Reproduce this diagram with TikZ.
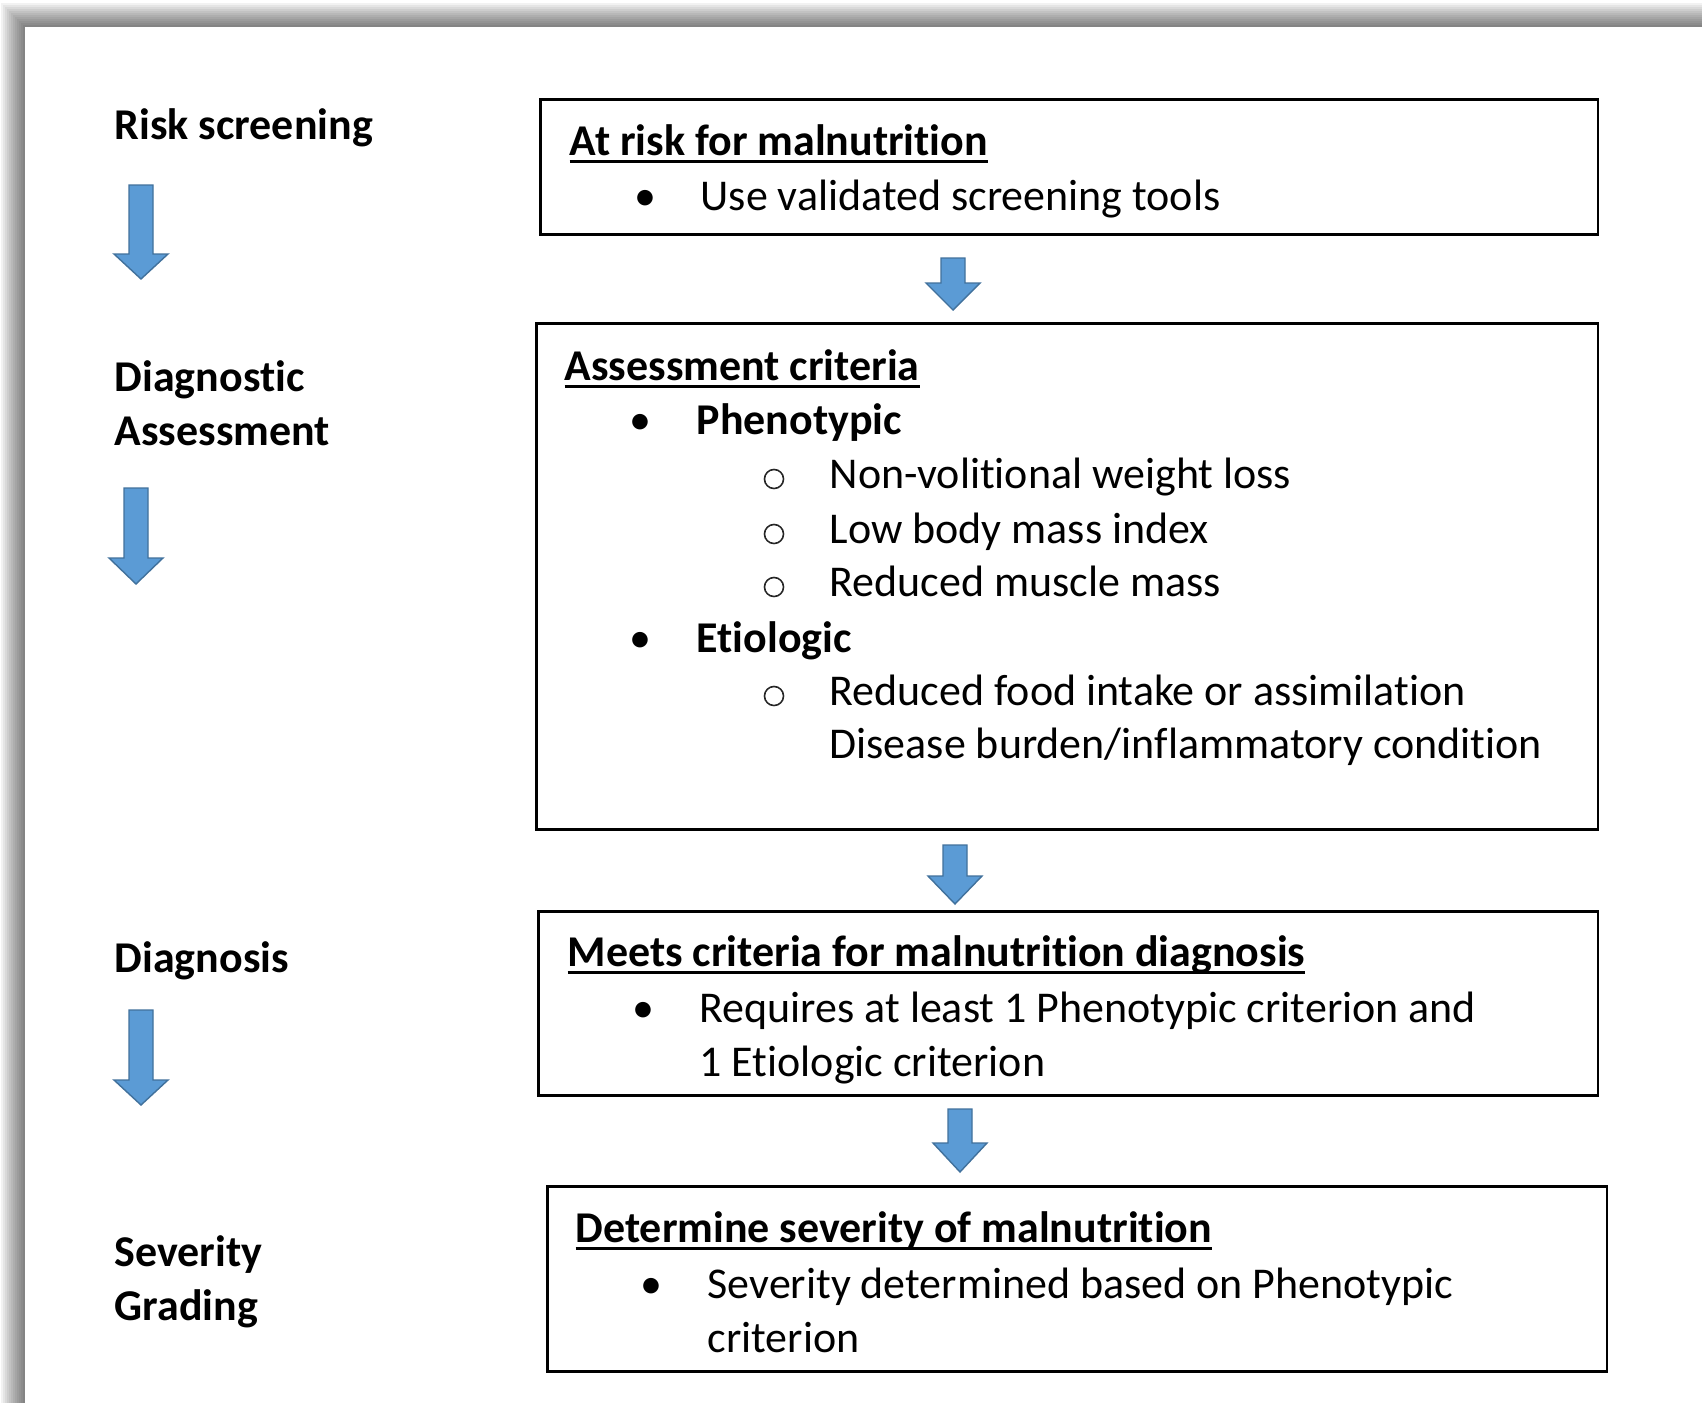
\documentclass[tikz,border=0pt]{standalone}
\usepackage{fontspec}
\setmainfont{Carlito}[Ligatures=NoCommon]

% Define colors
\definecolor{arrowblue}{HTML}{5B9BD5}
\definecolor{arrowedge}{HTML}{41719C}

% underlined heading: rule a little below the baseline
\newcommand\headline[1]{\setbox0\hbox{#1}\rlap{\rule[-2.2pt]{\wd0}{0.7pt}}\box0}

\begin{document}
\begin{tikzpicture}[x=0.01cm, y=-0.01cm,
    every node/.style={inner sep=0pt, font=\fontsize{12.5}{15}\selectfont},
    stagelabel/.style={anchor=base west, font=\fontsize{12.5}{15}\selectfont\bfseries},
    boxhead/.style={anchor=base west, font=\fontsize{12.5}{15}\selectfont\bfseries},
    itemtext/.style={anchor=base west},
    bulletdot/.style={anchor=base},
    subdot/.style={circle, draw=black!85, line width=0.45pt, minimum size=0.19cm},
    stagebox/.style={draw, line width=0.8pt, anchor=north west},
    blockarrow/.style={fill=arrowblue, draw=arrowedge, line width=0.4pt}]

    \useasboundingbox (0,0) rectangle (1702,1403);

    % Page with its shadow
    \fill[white] (0,0) rectangle (1702,1403);
    \foreach \s in {1,...,12}
      \fill[black, opacity=0.05] ({25-2*\s},{27-2*\s}) rectangle (1702,1403);
    \fill[white] (25,27) rectangle (1702,1403);

    % Define a macro to draw a block arrow pointing down
    \def\drawArrow#1#2#3#4{ % #1 = x, #2 = top, #3 = head top, #4 = tip
      \filldraw[blockarrow] ({#1-12},#2) -- ({#1+12},#2) -- ({#1+12},#3) -- ({#1+27},#3)
        -- (#1,#4) -- ({#1-27},#3) -- ({#1-12},#3) -- cycle;
    }

    % Stage labels on the left
    \node[stagelabel] (risk) at (114,139) {Risk screening};
    \node[stagelabel] (diagA) at (114,391) {Diagnostic};
    \node[stagelabel] (diagB) at (114,445) {Assessment};
    \node[stagelabel] (diagnosis) at (114,972) {Diagnosis};
    \node[stagelabel] (sevA) at (114,1266) {Severity};
    \node[stagelabel] (sevB) at (114,1320) {Grading};

    % Arrows on the left
    \drawArrow{141}{185}{254}{279}
    \drawArrow{136}{488}{558}{584}
    \drawArrow{141}{1010}{1080}{1105}

    % Box 1: at risk
    \node[stagebox, minimum width=10.57cm, minimum height=1.35cm] (riskbox) at (539,98) {};
    \node[boxhead] (riskhead) at (569,155) {\headline{At risk for malnutrition}};
    \node[bulletdot] (riskdot) at (645,210) {•};
    \node[itemtext] (riskitem) at (700,210) {Use validated screening tools};

    % Box 2: assessment criteria
    \node[stagebox, minimum width=10.61cm, minimum height=5.06cm] (assessbox) at (535,322) {};
    \node[boxhead] (assesshead) at (564,380) {\headline{Assessment criteria}};
    \node[bulletdot] (phenodot) at (640,434) {•};
    \node[boxhead] (pheno) at (696,434) {Phenotypic};
    \node[subdot] (weightdot) at (774,479) {};
    \node[itemtext] (weight) at (829,488) {Non-volitional weight loss};
    \node[subdot] (bmidot) at (774,534) {};
    \node[itemtext] (bmi) at (829,543) {Low body mass index};
    \node[subdot] (muscledot) at (774,587) {};
    \node[itemtext] (muscle) at (829,596) {Reduced muscle mass};
    \node[bulletdot] (etiodot) at (640,652) {•};
    \node[boxhead] (etio) at (696,652) {Etiologic};
    \node[subdot] (fooddot) at (774,696) {};
    \node[itemtext] (food) at (829,705) {Reduced food intake or assimilation};
    \node[itemtext] (disease) at (829,758) {Disease burden/inflammatory condition};

    % Box 3: diagnosis
    \node[stagebox, minimum width=10.59cm, minimum height=1.84cm] (diagbox) at (537,910) {};
    \node[boxhead] (diaghead) at (567,966) {\headline{Meets criteria for malnutrition diagnosis}};
    \node[bulletdot] (diagdot) at (643,1022) {•};
    \node[itemtext] (diagA) at (699,1022) {Requires at least 1 Phenotypic criterion and};
    \node[itemtext] (diagB) at (699,1076) {1 Etiologic criterion};

    % Box 4: severity
    \node[stagebox, minimum width=10.59cm, minimum height=1.85cm] (sevbox) at (546,1185) {};
    \node[boxhead] (sevhead) at (575,1242) {\headline{Determine severity of malnutrition}};
    \node[bulletdot] (sevdot) at (651,1298) {•};
    \node[itemtext] (sevitemA) at (707,1298) {Severity determined based on Phenotypic};
    \node[itemtext] (sevitemB) at (707,1352) {criterion};

    % Arrows between the boxes
    \drawArrow{953}{258}{283}{310}
    \drawArrow{955}{845}{876}{904}
    \drawArrow{960}{1109}{1143}{1172}
  \end{tikzpicture}
\end{document}
